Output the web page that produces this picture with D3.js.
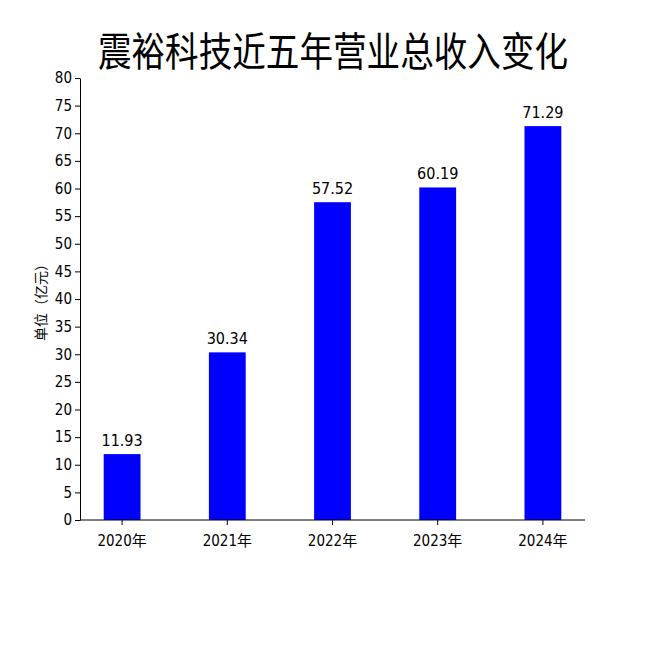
<!DOCTYPE html>
<html><head><meta charset="utf-8">
<script src="https://cdn.jsdelivr.net/npm/d3@7"></script>
<style>body{margin:0;background:#fff}text{font-family:"DejaVu Sans Condensed","DejaVu Sans","Noto Sans CJK SC",sans-serif}</style>
</head><body>
<svg id="c" width="650" height="650"></svg>
<script>
const title = "震裕科技近五年营业总收入变化";
const categories = ["2020年","2021年","2022年","2023年","2024年"];
const values = [11.93, 30.34, 57.52, 60.19, 71.29];
const yTicks = d3.range(0, 81, 5);
const yLabel = "单位（亿元）";

const svg = d3.select("#c");
const x = d3.scaleBand().domain(categories).range([69.5, 595.5]).paddingInner(0.65).paddingOuter(0.325);
const y = d3.scaleLinear().domain([0, 80]).range([520, 78]);

svg.append("text").attr("x", 333).attr("y", 66).attr("text-anchor", "middle")
  .attr("font-size", 40).attr("font-family", "Noto Sans CJK SC").attr("transform","translate(333,0) scale(0.84,1) translate(-333,0)").text(title);

svg.selectAll("rect").data(values).join("rect")
  .attr("x", (d, i) => x(categories[i])).attr("width", x.bandwidth())
  .attr("y", d => y(d)).attr("height", d => y(0) - y(d)).attr("fill", "#0000ff");

svg.selectAll(".v").data(values).join("text")
  .attr("x", (d, i) => x(categories[i]) + x.bandwidth() / 2).attr("y", d => y(d) - 8)
  .attr("text-anchor", "middle").attr("font-size", 16).text(d => d.toFixed(2));

const ya = svg.append("g").attr("transform", "translate(80,0)")
  .call(d3.axisLeft(y).tickValues(yTicks).tickSize(5).tickSizeOuter(0));
ya.selectAll("text").attr("font-size", 15).attr("fill", "#000");
const xa = svg.append("g").attr("transform", "translate(0,520)")
  .call(d3.axisBottom(x).tickSize(5).tickSizeOuter(0));
xa.select(".domain").attr("d", "M80,0H585");
xa.selectAll("text").attr("font-size", 15).attr("fill", "#000").attr("dy", "1.2em");
svg.selectAll(".domain,.tick line").attr("stroke", "#000");

svg.append("text").attr("transform", "translate(46,299) rotate(-90)")
  .attr("text-anchor", "middle").attr("font-size", 14).text(yLabel);
</script></body></html>
